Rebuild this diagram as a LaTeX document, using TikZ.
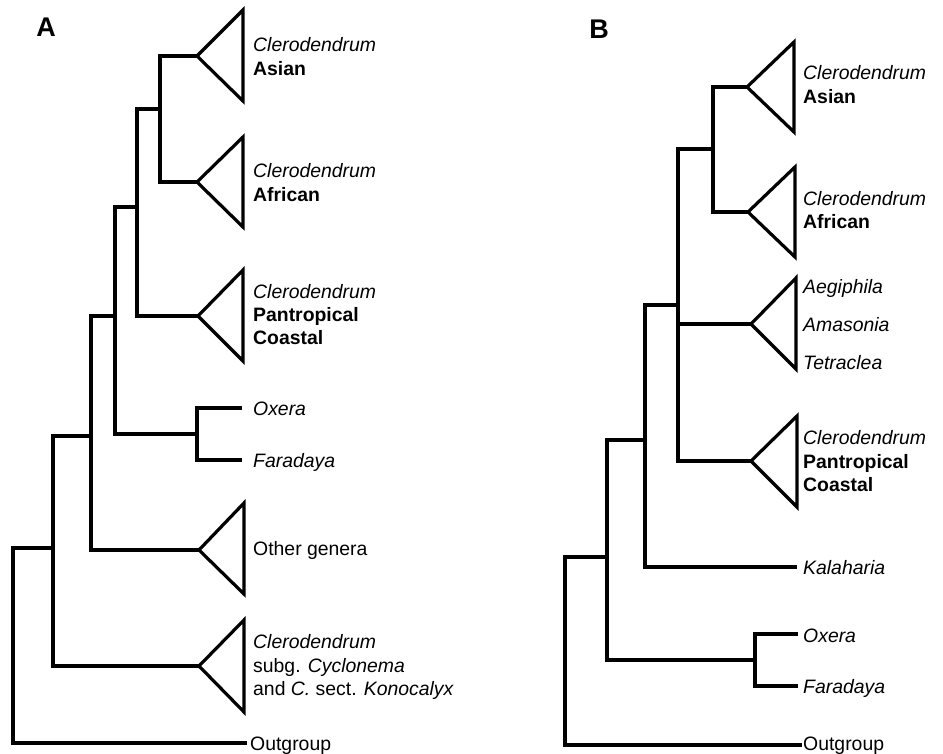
\documentclass[tikz,border=0pt]{standalone}
\usepackage{fontspec}
\setmainfont{Liberation Sans}
\begin{document}
\begin{tikzpicture}[x=1pt,y=-1pt,
  br/.style={line width=3.2pt, line join=miter},
  lbl/.style={inner sep=0pt, anchor=base west, font=\fontsize{19.4}{23}\selectfont},
  panel/.style={inner sep=0pt, font=\fontsize{27}{32}\selectfont\bfseries}]
\useasboundingbox (0,0) rectangle (943,753);
% ---------------- Panel A ----------------
\node[panel] (labA) at (46,27) {A};
% triangle apices and leaf ends
\coordinate (tA1) at (197,56);
\coordinate (tA2) at (197,182);
\coordinate (tA3) at (198,316);
\coordinate (tA4) at (199,550);
\coordinate (tA5) at (199,666);
\coordinate (lOxA) at (242,408);
\coordinate (lFaA) at (242,460);
\coordinate (outA) at (247,743);
% internal nodes
\coordinate (nA1) at (160,109);
\coordinate (nA2) at (137,207);
\coordinate (nA3) at (115,316);
\coordinate (nOFA) at (197,434);
\coordinate (nA4) at (91,436);
\coordinate (nA5) at (53,548);
\coordinate (nA0) at (13,640);
\draw[br] (tA1) -| (nA1) |- (tA2);
\draw[br] (nA1) -| (nA2) |- (tA3);
\draw[br] (lOxA) -| (nOFA) |- (lFaA);
\draw[br] (nA2) -| (nA3) |- (nOFA);
\draw[br] (nA3) -| (nA4) |- (tA4);
\draw[br] (nA4) -| (nA5) |- (tA5);
\draw[br] (nA5) -| (nA0) |- (outA);
% triangles
\draw[br] (tA1) -- (243,10) -- (243,101) -- cycle;
\draw[br] (tA2) -- (243,137) -- (243,227) -- cycle;
\draw[br] (tA3) -- (243,270) -- (243,361) -- cycle;
\draw[br] (tA4) -- (244,503) -- (244,594) -- cycle;
\draw[br] (tA5) -- (244,620) -- (244,712) -- cycle;
% labels
\node[lbl] (a1a) at (253,51) {\itshape Clerodendrum};
\node[lbl] (a1b) at (253,75) {\bfseries Asian};
\node[lbl] (a2a) at (253,177) {\itshape Clerodendrum};
\node[lbl] (a2b) at (253,201) {\bfseries African};
\node[lbl] (a3a) at (253,298) {\itshape Clerodendrum};
\node[lbl] (a3b) at (253,321) {\bfseries Pantropical};
\node[lbl] (a3c) at (253,344) {\bfseries Coastal};
\node[lbl] (aOx) at (253,415) {\itshape Oxera};
\node[lbl] (aFa) at (253,467) {\itshape Faradaya};
\node[lbl] (aOg) at (253,555) {Other genera};
\node[lbl] (a5a) at (253,648) {\itshape Clerodendrum};
\node[lbl] (a5b) at (253,672) {subg. \itshape Cyclonema};
\node[lbl] (a5c) at (253,695) {and \textit{C.} sect. \textit{Konocalyx}};
\node[lbl] (aOut) at (250,750) {Outgroup};
% ---------------- Panel B ----------------
\node[panel] (labB) at (599,29) {B};
\coordinate (tB1) at (747,87);
\coordinate (tB2) at (748,212);
\coordinate (tB3) at (751,324);
\coordinate (tB4) at (751,461);
\coordinate (lKaB) at (797,567);
\coordinate (lOxB) at (798,634);
\coordinate (lFaB) at (798,686);
\coordinate (outB) at (802,745);
\coordinate (nB1) at (713,149);
\coordinate (nB2) at (678,305);
\coordinate (nB2m) at (678,324);
\coordinate (nB3) at (645,440);
\coordinate (nOFB) at (755,660);
\coordinate (nB4) at (607,557);
\coordinate (nB0) at (565,650);
\draw[br] (tB1) -| (nB1) |- (tB2);
\draw[br] (nB1) -| (nB2) |- (tB4);
\draw[br] (nB2m) -- (tB3);
\draw[br] (nB2) -| (nB3) |- (lKaB);
\draw[br] (lOxB) -| (nOFB) |- (lFaB);
\draw[br] (nB3) -| (nB4) |- (nOFB);
\draw[br] (nB4) -| (nB0) |- (outB);
% triangles
\draw[br] (tB1) -- (794,42) -- (794,132) -- cycle;
\draw[br] (tB2) -- (795,167) -- (795,257) -- cycle;
\draw[br] (tB3) -- (796,278) -- (796,369) -- cycle;
\draw[br] (tB4) -- (797,416) -- (797,507) -- cycle;
% labels
\node[lbl] (b1a) at (803,79) {\itshape Clerodendrum};
\node[lbl] (b1b) at (803,103) {\bfseries Asian};
\node[lbl] (b2a) at (803,205) {\itshape Clerodendrum};
\node[lbl] (b2b) at (803,228) {\bfseries African};
\node[lbl] (b3a) at (803,293) {\itshape Aegiphila};
\node[lbl] (b3b) at (803,331) {\itshape Amasonia};
\node[lbl] (b3c) at (803,369) {\itshape Tetraclea};
\node[lbl] (b4a) at (803,444) {\itshape Clerodendrum};
\node[lbl] (b4b) at (803,468) {\bfseries Pantropical};
\node[lbl] (b4c) at (803,491) {\bfseries Coastal};
\node[lbl] (bKa) at (803,574) {\itshape Kalaharia};
\node[lbl] (bOx) at (803,642) {\itshape Oxera};
\node[lbl] (bFa) at (803,693) {\itshape Faradaya};
\node[lbl] (bOut) at (803,750) {Outgroup};
\end{tikzpicture}
\end{document}
